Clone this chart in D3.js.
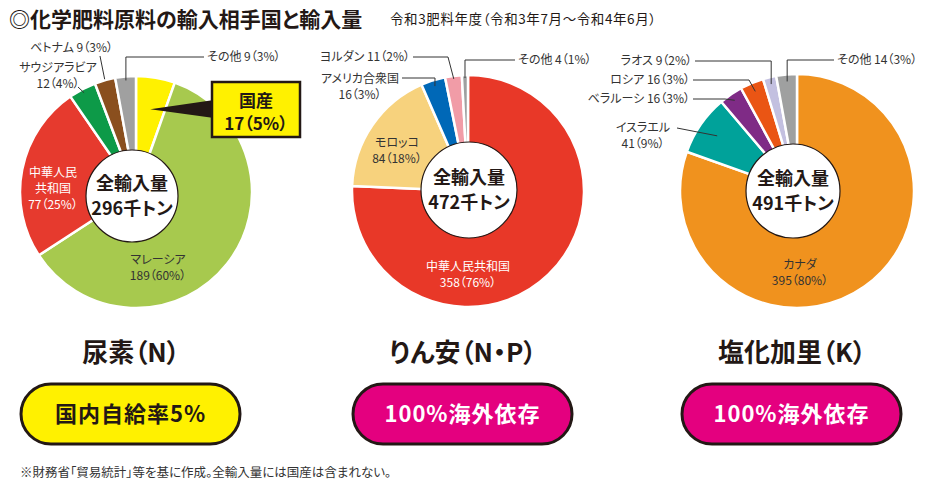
<!DOCTYPE html>
<html lang="ja">
<head>
<meta charset="utf-8">
<script src="https://cdn.jsdelivr.net/npm/d3@7"></script>
<style>
  body { margin: 0; background: #fff; }
  svg { display: block; font-family: "Noto Sans CJK JP", "Noto Sans", sans-serif; font-feature-settings: "palt" 1; }
</style>
</head>
<body>
<div id="chart"></div>
<script>
// Data (千トン)
const UREA_NAMES = ['国産', 'マレーシア', '中華人民共和国', 'サウジアラビア', 'ベトナム', 'その他'];
const UREA_VALUES = [17, 189, 77, 12, 9, 9];
const UREA_SHARES = ['5%', '60%', '25%', '4%', '3%', '3%'];

const DAP_NAMES = ['中華人民共和国', 'モロッコ', 'アメリカ合衆国', 'ヨルダン', 'その他'];
const DAP_VALUES = [358, 84, 16, 11, 4];
const DAP_SHARES = ['76%', '18%', '3%', '2%', '1%'];

const KCL_NAMES = ['カナダ', 'イスラエル', 'ベラルーシ', 'ロシア', 'ラオス', 'その他'];
const KCL_VALUES = [395, 41, 16, 16, 9, 14];
const KCL_SHARES = ['80%', '9%', '3%', '3%', '2%', '3%'];

const TOTALS = ['296千トン', '472千トン', '491千トン'];
const PRODUCTS = ['尿素（N）', 'りん安（N・P）', '塩化加里（K）'];
const BADGES = ['国内自給率5%', '100%海外依存', '100%海外依存'];

const W = 943, H = 495;
const INK = '#231815';

const svg = d3.select('#chart').append('svg')
    .attr('width', W)
    .attr('height', H);

// Title
svg.append('text')
    .attr('x', 9).attr('y', 27)
    .attr('font-size', 21).attr('font-weight', 700).attr('fill', INK)
    .text('◎化学肥料原料の輸入相手国と輸入量');
svg.append('text')
    .attr('x', 390).attr('y', 24)
    .attr('font-size', 13.5).attr('letter-spacing', 0.6).attr('fill', INK)
    .text('令和3肥料年度（令和3年7月～令和4年6月）');

// chart layout: one entry per pie
const pies = [
    {
        names: UREA_NAMES, values: UREA_VALUES, shares: UREA_SHARES, total: TOTALS[0],
        cx: 136, cy: 192, r: 116, hole: [132, 196, 46],
        colors: ['#fff100', '#a7c94e', '#e63a2e', '#0d9a48', '#8a4f1e', '#a0a0a0'],
        labels: [
            null,
            { lines: 'name|value', x: 158, y: 260, color: '#333' },
            { lines: ['中華人民', '共和国', 'value'], x: 53, y: 173, color: '#fff' },
            { lines: 'name|value', x: 58, y: 68, color: '#333', leader: [[78, 87]], lr: 112 },
            { lines: 'inline', x: 113, y: 48, anchor: 'end', color: '#333', leader: [[100, 56]], lr: 117 },
            { lines: 'inline', x: 207, y: 57, anchor: 'start', color: '#333', leader: [[204, 57], 'v'], lr: 112 }
        ]
    },
    {
        names: DAP_NAMES, values: DAP_VALUES, shares: DAP_SHARES, total: TOTALS[1],
        cx: 468, cy: 191, r: 116, hole: [469, 190, 48],
        colors: ['#e83828', '#f7d27d', '#0068b7', '#f19ca7', '#9fa0a0'],
        labels: [
            { lines: 'name|value', x: 468, y: 267, color: '#fff' },
            { lines: 'name|value', x: 397, y: 143, color: '#333' },
            { lines: 'name|value', x: 360, y: 79, color: '#333', leader: [[402, 78], [435, 78]], lr: 110 },
            { lines: 'inline', x: 410, y: 57, anchor: 'end', color: '#333', leader: [[413, 57], [448, 57]], lr: 113 },
            { lines: 'inline', x: 518, y: 60, anchor: 'start', color: '#333', leader: [[515, 60], 'v'], lr: 113 }
        ]
    },
    {
        names: KCL_NAMES, values: KCL_VALUES, shares: KCL_SHARES, total: TOTALS[2],
        cx: 797, cy: 191, r: 117, hole: [793, 191, 47],
        colors: ['#f0921e', '#00a29a', '#7f2b86', '#ea5514', '#c3c0e0', '#9fa0a0'],
        labels: [
            { lines: 'name|value', x: 800, y: 265, color: '#333' },
            { lines: 'name|value', x: 643, y: 128, color: '#333', leader: [[677, 128]], lr: 97 },
            { lines: 'inline', x: 690, y: 99, anchor: 'end', color: '#333', leader: [[693, 99], [725, 99]], lr: 110 },
            { lines: 'inline', x: 690, y: 80, anchor: 'end', color: '#333', leader: [[693, 80], [749, 80]], lr: 108 },
            { lines: 'inline', x: 692, y: 61, anchor: 'end', color: '#333', leader: [[695, 61], 'v'], lr: 110 },
            { lines: 'inline', x: 837, y: 60, anchor: 'start', color: '#333', leader: [[834, 60], 'v'], lr: 110 }
        ]
    }
];

const pieGen = d3.pie().sort(null).value(d => d);

function polar(cx, cy, a, rad) {
    return [cx + rad * Math.sin(a), cy - rad * Math.cos(a)];
}

pies.forEach((p, pi) => {
    const arcs = pieGen(p.values);
    const arc = d3.arc().innerRadius(0).outerRadius(p.r);
    const g = svg.append('g');

    g.append('g')
        .attr('transform', `translate(${p.cx},${p.cy})`)
        .selectAll('path').data(arcs).enter().append('path')
        .attr('d', arc)
        .attr('fill', (d, i) => p.colors[i])
        .attr('stroke', '#fff')
        .attr('stroke-width', 2.5)
        .attr('stroke-linejoin', 'round');

    // center hole
    g.append('circle')
        .attr('cx', p.hole[0]).attr('cy', p.hole[1]).attr('r', p.hole[2])
        .attr('fill', '#fff').attr('stroke', INK).attr('stroke-width', 1.2);
    g.append('text')
        .attr('x', p.hole[0]).attr('y', p.hole[1] - 6)
        .attr('text-anchor', 'middle').attr('font-size', 18).attr('font-weight', 700).attr('fill', INK)
        .text('全輸入量');
    g.append('text')
        .attr('x', p.hole[0]).attr('y', p.hole[1] + 19)
        .attr('text-anchor', 'middle').attr('font-size', 18).attr('font-weight', 700).attr('fill', INK)
        .text(p.total);

    // labels
    p.labels.forEach((lab, i) => {
        if (!lab) return;
        const valueText = p.values[i] + '（' + p.shares[i] + '）';
        let lines;
        if (lab.lines === 'inline') lines = [p.names[i] + ' ' + valueText];
        else if (lab.lines === 'name|value') lines = [p.names[i], valueText];
        else lines = lab.lines.map(s => s === 'value' ? valueText : s);

        const t = g.append('text')
            .attr('text-anchor', lab.anchor || 'middle')
            .attr('font-size', 12)
            .attr('fill', lab.color);
        lines.forEach((s, k) => {
            t.append('tspan')
                .attr('x', lab.x)
                .attr('y', lab.y + k * 16)
                .attr('dy', '0.36em')
                .text(s);
        });

        if (lab.leader) {
            const a = (arcs[i].startAngle + arcs[i].endAngle) / 2;
            const end = polar(p.cx, p.cy, a, lab.lr);
            const pts = lab.leader.map((q, k) => q === 'v' ? [end[0], lab.leader[k - 1][1]] : q);
            pts.push(end);
            g.append('path')
                .attr('d', d3.line()(pts))
                .attr('fill', 'none')
                .attr('stroke', '#333')
                .attr('stroke-width', 1);
        }
    });

    // product heading
    g.append('text')
        .attr('x', p.cx - 5).attr('y', 362)
        .attr('text-anchor', 'middle').attr('font-size', 26).attr('font-weight', 700).attr('fill', INK)
        .text(PRODUCTS[pi]);

    // badge
    const bx = p.cx - 115, bw = 219, by = 384, bh = 60;
    const domestic = pi === 0;
    g.append('rect')
        .attr('x', bx).attr('y', by).attr('width', bw).attr('height', bh)
        .attr('rx', bh / 2)
        .attr('fill', domestic ? '#fff100' : '#e4007f')
        .attr('stroke', INK).attr('stroke-width', 3);
    g.append('text')
        .attr('x', bx + bw / 2).attr('y', by + bh / 2)
        .attr('dy', '0.36em')
        .attr('text-anchor', 'middle').attr('font-size', 22).attr('font-weight', 700)
        .attr('letter-spacing', 1)
        .attr('fill', domestic ? INK : '#fff')
        .text(BADGES[pi]);
});

// 国産 callout on the urea pie
(function () {
    const p = pies[0];
    const a0 = pieGen(p.values)[0];
    const tip = polar(p.cx, p.cy, (a0.startAngle + a0.endAngle) / 2, 84);
    svg.append('path')
        .attr('d', d3.line()([[214, 100], [214, 118], tip]) + 'Z')
        .attr('fill', INK);
    svg.append('rect')
        .attr('x', 212).attr('y', 82).attr('width', 88).attr('height', 55)
        .attr('fill', '#fff100').attr('stroke', INK).attr('stroke-width', 2.5);
    svg.append('text')
        .attr('x', 256).attr('y', 107)
        .attr('text-anchor', 'middle').attr('font-size', 17).attr('font-weight', 700).attr('fill', INK)
        .text(p.names[0]);
    svg.append('text')
        .attr('x', 256).attr('y', 130)
        .attr('text-anchor', 'middle').attr('font-size', 17).attr('font-weight', 700).attr('fill', INK)
        .text(p.values[0] + '（' + p.shares[0] + '）');
})();

// footnote
svg.append('text')
    .attr('x', 20).attr('y', 477)
    .attr('font-size', 12.5).attr('fill', '#333')
    .text('※財務省「貿易統計」等を基に作成。全輸入量には国産は含まれない。');
</script>
</body>
</html>
